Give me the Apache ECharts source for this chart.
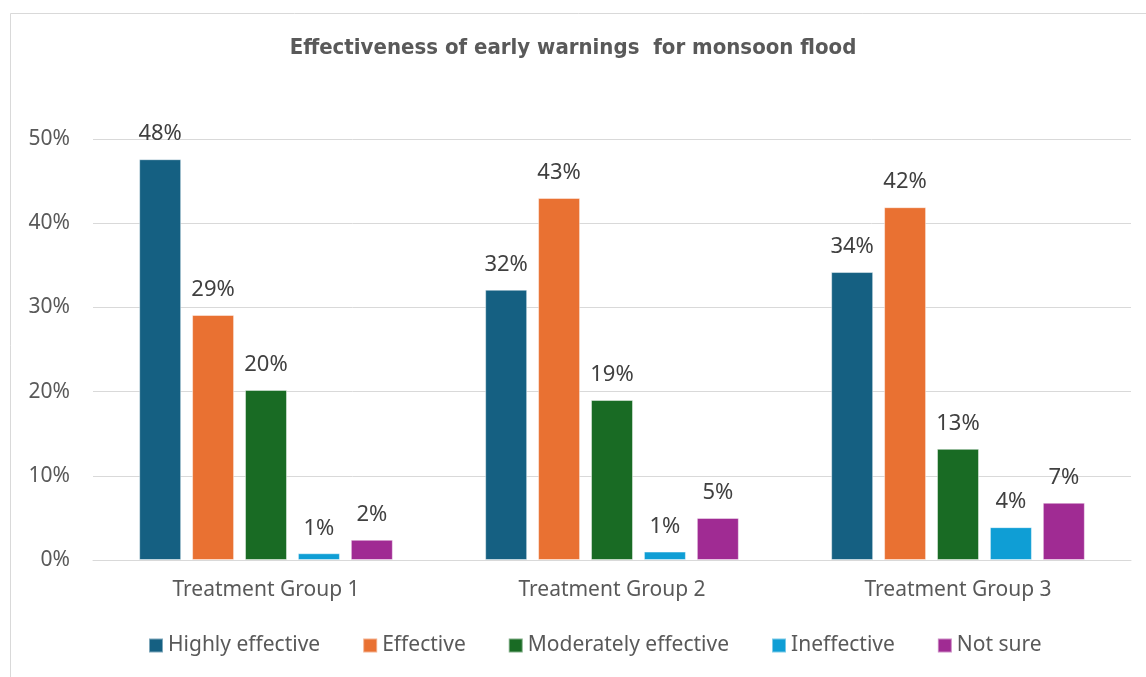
<!DOCTYPE html>
<html>
<head>
<meta charset="utf-8">
<script src="https://cdn.jsdelivr.net/npm/echarts@6/dist/echarts.min.js"></script>
<style>
  html, body { margin: 0; padding: 0; background: #fff; }
  #chart { width: 1146px; height: 677px; }
</style>
</head>
<body>
<div id="chart"></div>
<script>
var groups = ["Treatment Group 1", "Treatment Group 2", "Treatment Group 3"];
var seriesNames = ["Highly effective", "Effective", "Moderately effective", "Ineffective", "Not sure"];
var highlyEffective = [47.6, 32.1, 34.2];
var effective = [29.1, 43.0, 41.9];
var moderatelyEffective = [20.2, 19.0, 13.2];
var ineffective = [0.8, 1.0, 3.9];
var notSure = [2.4, 5.0, 6.8];
var yTicks = [0, 10, 20, 30, 40, 50];

var colors = ["#156082", "#E97132", "#196B24", "#0F9ED5", "#A02B93"];
var allValues = [highlyEffective, effective, moderatelyEffective, ineffective, notSure];
var font = "'Noto Sans', sans-serif";

var chart = echarts.init(document.getElementById("chart"));

var series = [];
for (var i = 0; i < seriesNames.length; i++) {
    series.push({
        name: seriesNames[i],
        type: "bar",
        data: allValues[i],
        barWidth: 42,
        barGap: "26%",
        itemStyle: { color: colors[i], borderColor: "rgba(255,255,255,0.45)", borderWidth: 1 },
        label: {
            show: true,
            position: "top",
            distance: 14,
            color: "#404040",
            fontSize: 22,
            fontFamily: font,
            formatter: function (p) { return Math.round(p.value) + "%"; }
        }
    });
}

var options = {
    animation: false,
    backgroundColor: "#fff",
    color: colors,
    graphic: [{
        type: "rect",
        left: 8, top: 11,
        shape: { width: 1160, height: 700 },
        style: { fill: "none", stroke: "#d9d9d9", lineWidth: 1 },
        silent: true
    }],
    title: {
        text: "Effectiveness of early warnings  for monsoon flood",
        left: "center",
        top: 32,
        textStyle: {
            fontFamily: "'Liberation Sans Narrow', 'DejaVu Sans Condensed', sans-serif",
            fontWeight: "bold",
            fontSize: 22,
            color: "#595959"
        }
    },
    legend: {
        bottom: 16,
        left: 143,
        itemWidth: 14,
        itemHeight: 14,
        itemGap: 42,
        icon: "rect",
        textStyle: { color: "#595959", fontSize: 21, fontFamily: font, padding: [0, 0, 0, 0] },
        data: seriesNames
    },
    grid: { left: 93, right: 15, top: 139, bottom: 117, containLabel: false },
    xAxis: {
        type: "category",
        data: groups,
        axisLine: { lineStyle: { color: "#d9d9d9", width: 1 } },
        axisTick: { show: false },
        axisLabel: { color: "#595959", fontSize: 21, fontFamily: font, margin: 20 }
    },
    yAxis: {
        type: "value",
        min: yTicks[0],
        max: yTicks[yTicks.length - 1],
        interval: 10,
        axisLine: { show: false },
        axisTick: { show: false },
        splitLine: { lineStyle: { color: "#d9d9d9", width: 1 } },
        axisLabel: {
            color: "#595959", fontSize: 21, fontFamily: font, margin: 23,
            formatter: function (v) { return v + "%"; }
        }
    },
    series: series
};

chart.setOption(options);
</script>
</body>
</html>
